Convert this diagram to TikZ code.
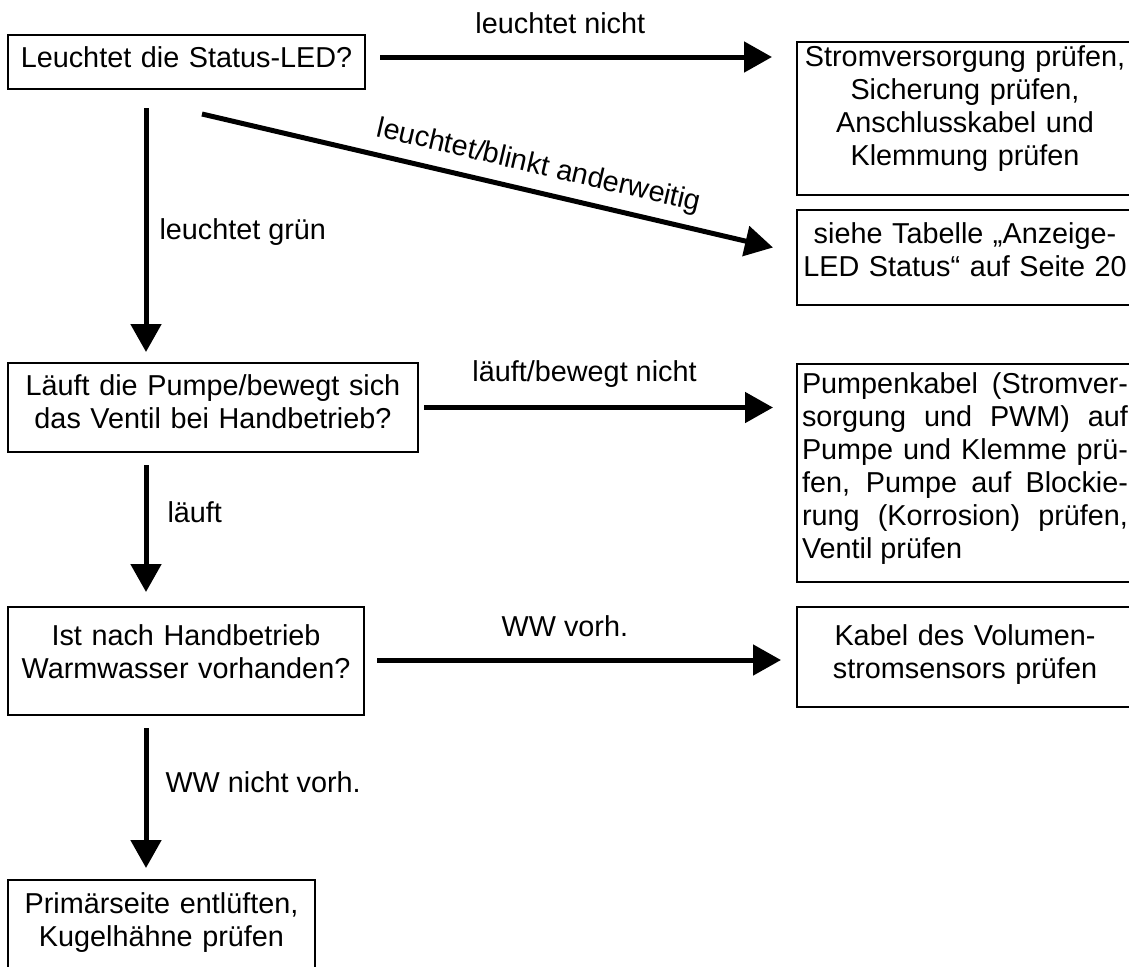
\documentclass[tikz,border=0pt]{standalone}
\usepackage{fontspec}
\setmainfont{Liberation Sans}
\usetikzlibrary{arrows.meta,calc,positioning}

\begin{document}
\begin{tikzpicture}[x=0.5pt, y=-0.5pt, font=\fontsize{14.4pt}{16.5pt}\selectfont]
\tikzstyle{box}=[rectangle, draw=black, line width=1pt, inner xsep=2.5pt, inner ysep=0pt, outer sep=0pt, anchor=north west, align=center]
\tikzstyle{connect}=[-{Triangle[length=14pt,width=15pt]}, line width=2.5pt]
\tikzstyle{lbl}=[inner sep=0pt]
  \path[use as bounding box, clip] (0,0) rectangle (1129,966);
  % questions, left column
  \node[box, text width=173.5pt, text height=16pt, text depth=11pt] (led) at (8,35) {Leuchtet die Status-LED?};
  \node[box, text width=200pt, text height=16pt, text depth=28.5pt] (pumpe) at (8,363) {Läuft die Pumpe/bewegt sich\\das Ventil bei Handbetrieb?};
  \node[box, text width=173pt, text height=19pt, text depth=35pt] (ww) at (8,607) {Ist nach Handbetrieb\\Warmwasser vorhanden?};
  \node[box, text width=148.5pt, text height=16.5pt, text depth=43.5pt] (prim) at (8,880) {Primärseite entlüften,\\Kugelhähne prüfen};
  % actions, right column
  \node[box, text width=163pt, text height=12pt, text depth=64.5pt] (strom) at (797,42) {Stromversorgung prüfen,\\Sicherung prüfen,\\Anschlusskabel und\\Klemmung prüfen};
  \node[box, text width=163pt, text height=16.5pt, text depth=31pt] (tab) at (797,210) {siehe Tabelle „Anzeige-\\LED Status“ auf Seite 20};
  \node[box, text width=163pt, text height=14.5pt, text depth=94.5pt, align=justify] (pkab) at (797,364) {Pumpenkabel (Stromver-\linebreak sorgung und PWM) auf Pumpe und Klemme prü-\linebreak fen, Pumpe auf Blockie-\linebreak rung (Korrosion) prüfen, Ventil prüfen};
  \node[box, text width=163pt, text height=19pt, text depth=31pt] (vol) at (797,607) {Kabel des Volumen-\\stromsensors prüfen};
  % down the left column
  \path ($(led.south west)+(138,19)$) edge[connect] node[lbl, pos=.51, anchor=west, xshift=5.5pt] {leuchtet grün} ($(pumpe.north west)+(138,-11)$);
  \path ($(pumpe.south west)+(138,13)$) edge[connect] node[lbl, pos=.37, anchor=west, xshift=9.5pt] {läuft} ($(ww.north west)+(138,-15)$);
  \path ($(ww.south west)+(138,13)$) edge[connect] node[lbl, pos=.39, anchor=west, xshift=8.5pt] {WW nicht vorh.} ($(prim.north west)+(138,-12)$);
  % across to the right column
  \path ($(led.east)+(15,-5)$) edge[connect] node[lbl, pos=.46, anchor=base, yshift=12pt] {leuchtet nicht} ($(led.east -| strom.west)+(-25,-5)$);
  \path ($(led.south west)+(194,25)$) edge[connect] node[lbl, sloped, pos=.58, anchor=base, yshift=9pt] {leuchtet/blinkt anderweitig} ($(tab.west)+(-24,-10)$);
  \path ($(pumpe.east)+(6,0)$) edge[connect] node[lbl, pos=.46, anchor=base, yshift=13pt] {läuft/bewegt nicht} ($(pumpe.east -| pkab.west)+(-24,0)$);
  \path ($(ww.east)+(13,-1)$) edge[connect] node[lbl, pos=.465, anchor=base, yshift=12pt] {WW vorh.} ($(ww.east -| vol.west)+(-16,-1)$);
\end{tikzpicture}
\end{document}
